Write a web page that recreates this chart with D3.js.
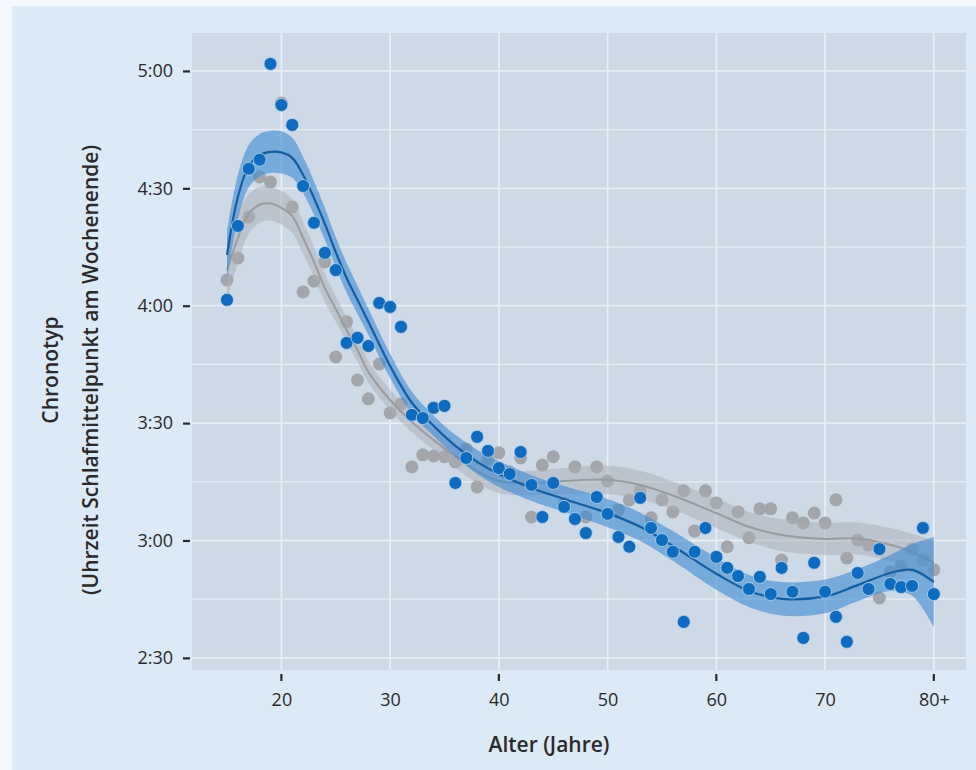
<!DOCTYPE html>
<html>
<head>
    <meta charset="utf-8">
    <title>Chronotyp nach Alter</title>
    <script src="https://d3js.org/d3.v7.min.js"></script>
    <style>
        body { margin: 0; background: #fff; }
        text { font-family: "Open Sans", "Noto Sans", sans-serif; fill: #2a2a2a; }
        .tick-label { font-size: 18px; }
        .axis-title { font-size: 21px; font-weight: 600; }
        .grid { stroke: #e7eef5; }
    </style>
</head>
<body>
    <div id="chart"></div>
    <script>
        // Alter in Jahren (80 = 80+)
        const ages = [15,16,17,18,19,20,21,22,23,24,25,26,27,28,29,30,31,32,33,34,35,36,37,38,39,40,
                      41,42,43,44,45,46,47,48,49,50,51,52,53,54,55,56,57,58,59,60,61,62,63,64,65,66,
                      67,68,69,70,71,72,73,74,75,76,77,78,79,80];

        // Schlafmittelpunkt in Minuten nach Mitternacht
        const bluePoints = [241.5,260.4,275.0,277.3,301.8,291.3,286.2,270.6,261.2,253.5,249.1,230.5,231.8,229.7,
                            240.7,239.7,234.6,212.1,211.3,213.9,214.4,194.7,201.1,206.5,202.9,198.5,197.0,202.6,
                            194.2,186.0,194.7,188.6,185.5,181.9,191.1,186.8,180.9,178.4,190.9,183.2,180.1,177.1,
                            159.2,177.1,183.2,175.8,173.0,170.9,167.6,170.7,166.3,173.0,166.9,155.1,174.3,166.9,
                            160.5,154.1,171.7,167.6,177.8,168.9,168.1,168.4,183.2,166.3];

        const grayPoints = [246.6,252.2,262.7,272.9,271.6,291.8,265.2,243.5,246.3,251.2,226.9,235.9,221.0,216.2,
                            225.1,212.6,214.9,198.8,201.9,201.6,201.4,200.1,203.4,193.7,200.6,202.4,197.5,201.1,
                            186.0,199.3,201.4,189.5,198.8,186.0,198.8,195.2,187.8,190.4,192.7,185.8,190.4,187.3,
                            192.7,182.4,192.7,189.6,178.4,187.3,180.7,188.1,188.1,175.0,185.8,184.5,187.0,184.5,
                            190.4,175.5,180.1,178.9,165.3,172.0,173.5,177.8,175.0,172.5];

        // Glättungskurven mit Konfidenzband
        const fitAges = [15,16,17,18,19,20,21,22,23,24,25,26,27,28,30,32,34,36,38,40,43,46,50,53,56,60,63,66,70,73,76,78,80];

        const blueFit = [253.0,267.8,275.7,278.5,279.3,279.2,277.8,273.4,267.5,260.9,253.7,247.1,241.5,235.9,224.6,215.2,
                         209.3,204.2,200.1,197.0,193.4,190.6,187.0,183.5,178.6,171.5,167.1,165.1,165.7,168.6,171.7,172.5,169.4];
        const blueHalf = [6.1,5.6,5.4,5.4,5.4,5.4,5.1,4.6,4.3,4.1,3.8,3.8,3.6,3.3,3.1,2.8,
                          2.6,2.8,3.1,3.3,3.3,3.3,3.6,3.6,3.8,4.1,4.1,4.3,4.3,4.1,4.6,6.6,11.5];

        const grayFit = [249.1,257.3,263.5,265.8,266.1,265.0,262.9,257.3,251.2,244.5,239.2,233.8,228.7,223.1,215.9,210.3,
                         205.7,201.4,197.8,195.2,194.7,195.2,195.5,194.2,191.5,187.0,183.5,181.4,180.4,180.5,178.9,177.1,174.3];
        const grayHalf = [7.7,6.4,5.1,4.6,4.3,4.3,4.3,4.1,3.8,3.6,3.3,3.1,3.1,2.8,2.6,2.6,
                          2.6,2.8,3.1,3.1,3.1,3.3,3.6,3.6,3.6,3.8,3.8,4.1,4.1,4.1,4.3,4.6,5.6];

        const xTicks = [20, 30, 40, 50, 60, 70, 80];
        const xTickMarks = [20, 40, 60, 80];
        const yTicks = [150, 180, 210, 240, 270, 300];
        const yMinor = [165, 195, 225, 255, 285];

        const width = 976, height = 770;
        const panel = { left: 192, right: 966, top: 33, bottom: 670 };

        const x = d3.scaleLinear().domain([11.78, 82.96]).range([panel.left, panel.right]);
        const y = d3.scaleLinear().domain([146.9, 309.7]).range([panel.bottom, panel.top]);

        const fmtTime = m => Math.floor(m / 60) + ":" + String(m % 60).padStart(2, "0");
        const fmtAge = a => a === 80 ? "80+" : String(a);

        const svg = d3.select("#chart").append("svg")
            .attr("width", width)
            .attr("height", height);

        // Hintergrund
        svg.append("rect").attr("width", width).attr("height", height).attr("fill", "#f4f8fc");
        svg.append("rect").attr("x", 12).attr("y", 6).attr("width", width - 12).attr("height", height - 6)
            .attr("fill", "#dce9f6");
        svg.append("rect")
            .attr("x", panel.left).attr("y", panel.top)
            .attr("width", panel.right - panel.left).attr("height", panel.bottom - panel.top)
            .attr("fill", "#cdd9e4");

        // Gitter
        const g = svg.append("g");
        g.selectAll(".ymin").data(yMinor).enter().append("line")
            .attr("class", "grid")
            .attr("x1", panel.left).attr("x2", panel.right)
            .attr("y1", d => y(d)).attr("y2", d => y(d))
            .attr("stroke-width", 1.3);
        g.selectAll(".ymaj").data(yTicks).enter().append("line")
            .attr("class", "grid")
            .attr("x1", panel.left).attr("x2", panel.right)
            .attr("y1", d => y(d)).attr("y2", d => y(d))
            .attr("stroke-width", 1.8);
        g.selectAll(".xmaj").data(xTicks).enter().append("line")
            .attr("class", "grid")
            .attr("x1", d => x(d)).attr("x2", d => x(d))
            .attr("y1", panel.top).attr("y2", panel.bottom)
            .attr("stroke-width", 1.8);

        // Achsen
        const yAxis = d3.axisLeft(y).tickValues(yTicks).tickFormat(fmtTime).tickSize(7).tickPadding(10);
        const ya = svg.append("g").attr("transform", `translate(${panel.left - 2},0)`).call(yAxis);
        ya.select(".domain").remove();
        ya.selectAll("line").attr("stroke", "#2a2a2a").attr("stroke-width", 2.2);
        ya.selectAll("text").attr("class", "tick-label").attr("fill", "#2a2a2a")
            .style("font-family", "'Open Sans', sans-serif");

        const xAxis = d3.axisBottom(x).tickValues(xTicks).tickFormat(fmtAge).tickSize(0).tickPadding(23);
        const xa = svg.append("g").attr("transform", `translate(0,${panel.bottom})`).call(xAxis);
        xa.select(".domain").remove();
        xa.selectAll("text").attr("class", "tick-label").attr("fill", "#2a2a2a")
            .style("font-family", "'Open Sans', sans-serif");
        svg.append("g").selectAll("line").data(xTickMarks).enter().append("line")
            .attr("x1", d => x(d)).attr("x2", d => x(d))
            .attr("y1", panel.bottom + 4).attr("y2", panel.bottom + 11)
            .attr("stroke", "#2a2a2a").attr("stroke-width", 2.2);

        svg.append("text").attr("class", "axis-title")
            .attr("x", 549).attr("y", 752)
            .attr("text-anchor", "middle").text("Alter (Jahre)");

        const yt = svg.append("text").attr("class", "axis-title")
            .attr("transform", "translate(0,370) rotate(-90)")
            .attr("text-anchor", "middle");
        yt.append("tspan").attr("x", 0).attr("y", 58).text("Chronotyp");
        yt.append("tspan").attr("x", 0).attr("y", 98).text("(Uhrzeit Schlafmittelpunkt am Wochenende)");

        // Punkte und Glättungen
        const clip = svg.append("clipPath").attr("id", "clip").append("rect")
            .attr("x", panel.left).attr("y", panel.top)
            .attr("width", panel.right - panel.left).attr("height", panel.bottom - panel.top);
        const plot = svg.append("g").attr("clip-path", "url(#clip)");

        const grayData = ages.map((a, i) => ({ age: a, v: grayPoints[i] }));
        const blueData = ages.map((a, i) => ({ age: a, v: bluePoints[i] }));
        const grayFitData = fitAges.map((a, i) => ({ age: a, v: grayFit[i], h: grayHalf[i] }));
        const blueFitData = fitAges.map((a, i) => ({ age: a, v: blueFit[i], h: blueHalf[i] }));

        plot.selectAll(".gp").data(grayData).enter().append("circle")
            .attr("cx", d => x(d.age)).attr("cy", d => y(d.v)).attr("r", 6.5)
            .attr("fill", "#a2a6aa");

        const band = d3.area()
            .x(d => x(d.age))
            .y0(d => y(d.v - d.h))
            .y1(d => y(d.v + d.h))
            .curve(d3.curveCatmullRom);
        const line = d3.line()
            .x(d => x(d.age))
            .y(d => y(d.v))
            .curve(d3.curveCatmullRom);

        plot.append("path").datum(grayFitData).attr("d", band)
            .attr("fill", "#a9aeb3").attr("opacity", 0.5);
        plot.append("path").datum(grayFitData).attr("d", line)
            .attr("fill", "none").attr("stroke", "#999c9f").attr("stroke-width", 2);

        plot.append("path").datum(blueFitData).attr("d", band)
            .attr("fill", "#3a8ad4").attr("opacity", 0.6);
        plot.append("path").datum(blueFitData).attr("d", line)
            .attr("fill", "none").attr("stroke", "#135ea3").attr("stroke-width", 2.2);

        plot.selectAll(".bp").data(blueData).enter().append("circle")
            .attr("cx", d => x(d.age)).attr("cy", d => y(d.v)).attr("r", 6.5)
            .attr("fill", "#0d6cbf")
            .attr("stroke", "#b9d4ec").attr("stroke-width", 0.8);
    </script>
</body>
</html>
